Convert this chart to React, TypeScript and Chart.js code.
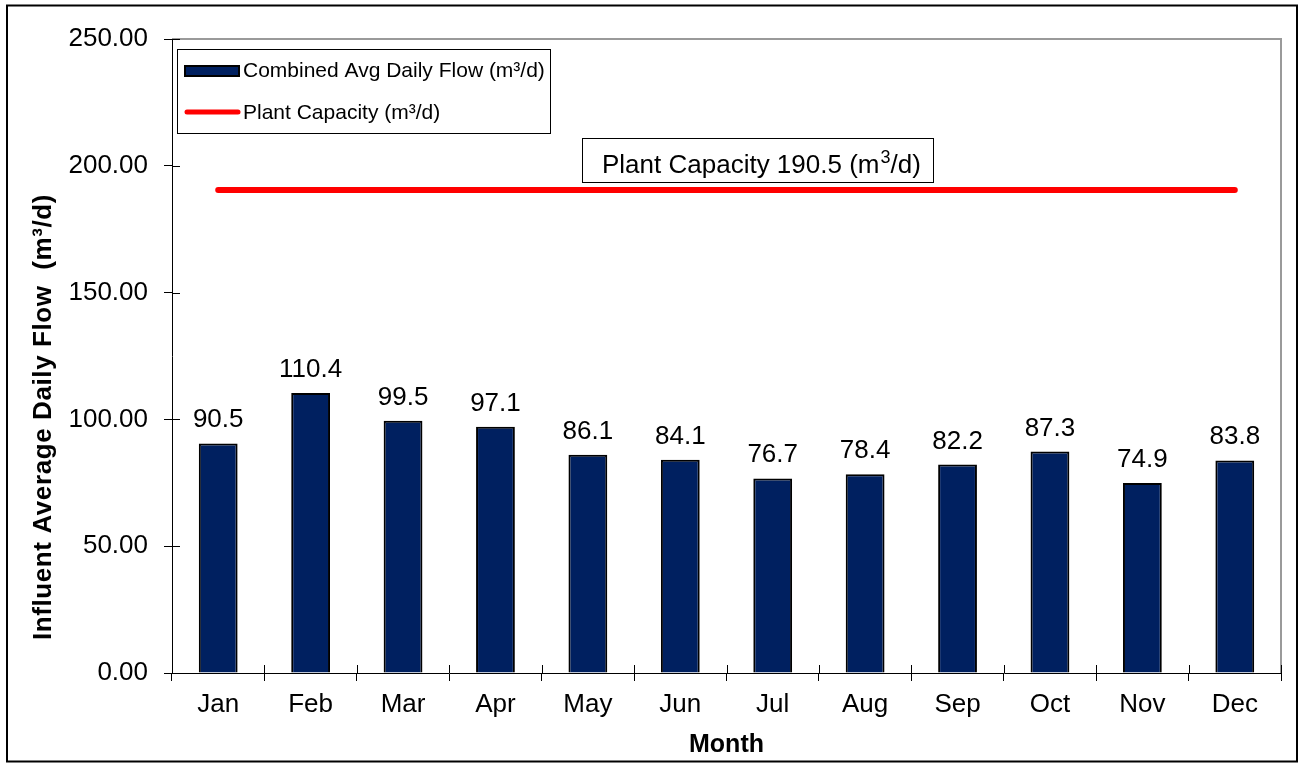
import React, { useEffect, useRef } from "react";
import { Chart, registerables } from "chart.js";

Chart.register(...registerables);

const months = ["Jan", "Feb", "Mar", "Apr", "May", "Jun", "Jul", "Aug", "Sep", "Oct", "Nov", "Dec"];
const avgDailyFlow = [90.5, 110.4, 99.5, 97.1, 86.1, 84.1, 76.7, 78.4, 82.2, 87.3, 74.9, 83.8];
const plantCapacityValue = 190.5;
const plantCapacity = months.map(() => plantCapacityValue);
const yTicks = [0, 50, 100, 150, 200, 250];
const seriesLabels = ["Combined Avg Daily Flow (m³/d)", "Plant Capacity (m³/d)"];
const yTitle = "Influent Average Daily Flow  (m³/d)";
const xTitle = "Month";

const FONT = '"Liberation Sans", Arial, Helvetica, sans-serif';
const NAVY = "#002060";
const RED = "#FF0000";

const decorPlugin = {
  id: "decor",
  beforeDraw(chart: any) {
    const { ctx, width, height } = chart;
    ctx.save();
    ctx.fillStyle = "#ffffff";
    ctx.fillRect(0, 0, width, height);
    ctx.restore();
  },
  afterDatasetsDraw(chart: any) {
    const { ctx, chartArea } = chart;
    const ys = chart.scales.y;
    ctx.save();
    // top & right frame (grey)
    ctx.strokeStyle = "#9a9a9a";
    ctx.lineWidth = 2;
    ctx.beginPath();
    ctx.moveTo(chartArea.left, chartArea.top);
    ctx.lineTo(chartArea.right, chartArea.top);
    ctx.lineTo(chartArea.right, chartArea.bottom);
    ctx.stroke();

    // inner tick parts
    ctx.strokeStyle = "#000000";
    ctx.lineWidth = 1;
    ctx.beginPath();
    yTicks.forEach((v) => {
      const y = Math.round(ys.getPixelForValue(v)) + 0.5;
      ctx.moveTo(chartArea.left, y);
      ctx.lineTo(chartArea.left + 8, y);
    });
    const n = months.length;
    const cw = (chartArea.right - chartArea.left) / n;
    for (let i = 0; i <= n; i++) {
      const x = Math.round(chartArea.left + i * cw) + 0.5;
      ctx.moveTo(x, chartArea.bottom - 8);
      ctx.lineTo(x, chartArea.bottom);
    }
    ctx.stroke();

    // data labels
    const meta = chart.getDatasetMeta(0);
    ctx.fillStyle = "#000000";
    ctx.font = `26px ${FONT}`;
    ctx.textAlign = "center";
    ctx.textBaseline = "alphabetic";
    meta.data.forEach((bar: any, i: number) => {
      ctx.fillText(avgDailyFlow[i].toFixed(1), bar.x, bar.y - 16);
    });

    // annotation box
    const boxL = 582, boxT = 138, boxW = 351, boxH = 44;
    ctx.fillStyle = "#ffffff";
    ctx.fillRect(boxL, boxT, boxW, boxH);
    ctx.strokeStyle = "#000000";
    ctx.lineWidth = 1;
    ctx.strokeRect(boxL + 0.5, boxT + 0.5, boxW, boxH);
    ctx.fillStyle = "#000000";
    ctx.textAlign = "left";
    ctx.font = `26px ${FONT}`;
    const base = 173;
    let tx = 602;
    const part1 = `Plant Capacity ${plantCapacityValue.toFixed(1)} (m`;
    ctx.fillText(part1, tx, base);
    tx += ctx.measureText(part1).width;
    ctx.font = `18px ${FONT}`;
    ctx.fillText("3", tx + 1, base - 10);
    tx += ctx.measureText("3").width + 1;
    ctx.font = `26px ${FONT}`;
    ctx.fillText("/d)", tx, base);

    // legend
    const lgL = 177, lgT = 49, lgW = 373, lgH = 84;
    ctx.fillStyle = "#ffffff";
    ctx.fillRect(lgL, lgT, lgW, lgH);
    ctx.strokeStyle = "#000000";
    ctx.strokeRect(lgL + 0.5, lgT + 0.5, lgW, lgH);
    ctx.fillStyle = NAVY;
    ctx.fillRect(185, 66, 54, 10);
    ctx.strokeStyle = "#000000";
    ctx.lineWidth = 2;
    ctx.strokeRect(185, 66, 54, 10);
    ctx.strokeStyle = RED;
    ctx.lineWidth = 5;
    ctx.lineCap = "round";
    ctx.beginPath();
    ctx.moveTo(187, 112);
    ctx.lineTo(238, 112);
    ctx.stroke();
    ctx.fillStyle = "#000000";
    ctx.font = `21px ${FONT}`;
    ctx.textBaseline = "middle";
    ctx.fillText(seriesLabels[0], 243, 71);
    ctx.fillText(seriesLabels[1], 243, 113);

    // y axis title
    ctx.save();
    ctx.translate(44, 417);
    ctx.rotate(-Math.PI / 2);
    ctx.font = `bold 26px ${FONT}`;
    (ctx as any).letterSpacing = "0.6px";
    ctx.textAlign = "center";
    ctx.textBaseline = "middle";
    ctx.fillStyle = "#000000";
    ctx.fillText(yTitle, 0, 0);
    ctx.restore();

    // outer border
    ctx.strokeStyle = "#000000";
    ctx.lineWidth = 2;
    ctx.lineCap = "butt";
    ctx.strokeRect(7, 5.5, 1290, 756);
    ctx.restore();
  },
};

export default function App() {
  const ref = useRef<HTMLCanvasElement | null>(null);
  useEffect(() => {
    document.body.style.margin = "0";
    const canvas = ref.current;
    if (!canvas) return;
    const chart = new Chart(canvas, {
      type: "bar",
      data: {
        labels: months,
        datasets: [
          {
            type: "bar",
            label: seriesLabels[0],
            data: avgDailyFlow,
            backgroundColor: NAVY,
            borderColor: "#000000",
            borderWidth: 2,
            categoryPercentage: 1,
            barPercentage: 0.42,
            order: 1,
          },
          {
            type: "line",
            label: seriesLabels[1],
            data: plantCapacity,
            borderColor: RED,
            borderWidth: 6,
            borderCapStyle: "round",
            pointRadius: 0,
            fill: false,
            order: 0,
          } as any,
        ],
      },
      options: {
        responsive: false,
        animation: false,
        devicePixelRatio: 1,
        layout: { padding: { left: 0, right: 20, top: 39, bottom: 0 } },
        plugins: {
          legend: { display: false },
          tooltip: { enabled: false },
          title: { display: false },
        },
        scales: {
          x: {
            offset: true,
            afterFit: (s: any) => {
              s.height = 91;
            },
            grid: {
              offset: true,
              drawOnChartArea: false,
              drawTicks: true,
              tickLength: 8,
              color: "#000000",
            },
            border: { display: true, color: "#000000", width: 1 },
            ticks: {
              color: "#000000",
              padding: 8,
              font: { family: FONT, size: 26 },
            },
            title: {
              display: true,
              text: xTitle,
              color: "#000000",
              font: { family: FONT, size: 25, weight: "bold" },
              padding: { top: 0, bottom: 4 },
            },
          },
          y: {
            min: 0,
            max: 250,
            afterFit: (s: any) => {
              s.width = 172;
            },
            afterBuildTicks: (s: any) => {
              s.ticks = yTicks.map((v) => ({ value: v }));
            },
            grid: {
              drawOnChartArea: false,
              drawTicks: true,
              tickLength: 8,
              color: "#000000",
            },
            border: { display: true, color: "#000000", width: 1 },
            ticks: {
              color: "#000000",
              padding: 16,
              font: { family: FONT, size: 26 },
              callback: (v: any) => Number(v).toFixed(2),
            },
            title: { display: false },
          },
        },
      },
      plugins: [decorPlugin],
    });
    return () => chart.destroy();
  }, []);
  return <canvas ref={ref} width={1301} height={764} style={{ display: "block" }} />;
}
